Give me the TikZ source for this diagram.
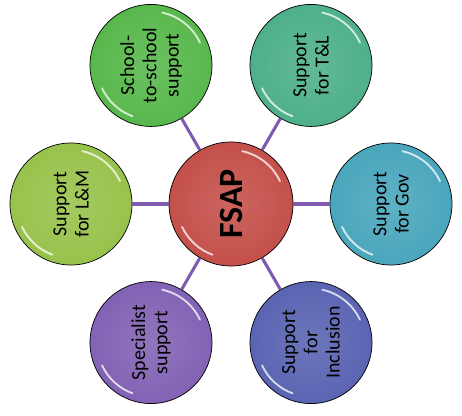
\documentclass[tikz,border=0pt]{standalone}
\usepackage{fontspec}
\setmainfont{Carlito}
\usepackage{tikz}
\usetikzlibrary{positioning,calc}
\usepackage{xcolor}

\definecolor{fsapred}{HTML}{C4504A}
\definecolor{stsgreen}{HTML}{58B84C}
\definecolor{tlgreen}{HTML}{4EB08A}
\definecolor{lmgreen}{HTML}{98C24C}
\definecolor{govblue}{HTML}{4AA6BC}
\definecolor{specpurple}{HTML}{8262B4}
\definecolor{inclblue}{HTML}{5A64B2}
\definecolor{linkpurple}{HTML}{7E5BAE}

\begin{document}
\begin{tikzpicture}[
    bubble/.style={circle, draw=black, line width=0.6pt, minimum size=3.66cm,
        inner sep=0pt, align=center, rotate=90,
        font=\fontsize{17}{19}\selectfont,
        inner color=#1!88!white, outer color=#1},
    link/.style={draw=linkpurple, line width=2.6pt},
    gloss/.style={white, opacity=0.75, line width=1.6pt, line cap=round}
]
    \useasboundingbox (-6.93,-6.36) rectangle (6.93,6.12);

    % hub
    \node[bubble=fsapred, minimum size=3.72cm, font=\fontsize{29}{31}\selectfont\bfseries]
        (fsap) at (0,0) {FSAP};

    % satellites
    \node[bubble=stsgreen]   (sts)  at (120:4.8) {School-\\to-school\\support};
    \node[bubble=tlgreen]    (tl)   at (60:4.8)  {Support\\for T\&L};
    \node[bubble=lmgreen]    (lm)   at (180:4.8) {Support\\for L\&M};
    \node[bubble=govblue]    (gov)  at (0:4.8)   {Support\\for Gov};
    \node[bubble=specpurple] (spec) at (240:4.8) {Specialist\\support};
    \node[bubble=inclblue]   (incl) at (300:4.8) {Support\\for\\Inclusion};

    % links
    \foreach \s in {sts,tl,lm,gov,spec,incl}
        \draw[link] (fsap) -- (\s);

    % highlights
    \foreach \s in {fsap,sts,tl,lm,gov,spec,incl} {
        \draw[gloss] ([shift={(25:1.62)}]\s.center) arc (25:78:1.62);
        \draw[gloss] ([shift={(205:1.62)}]\s.center) arc (205:250:1.62);
    }
\end{tikzpicture}
\end{document}
